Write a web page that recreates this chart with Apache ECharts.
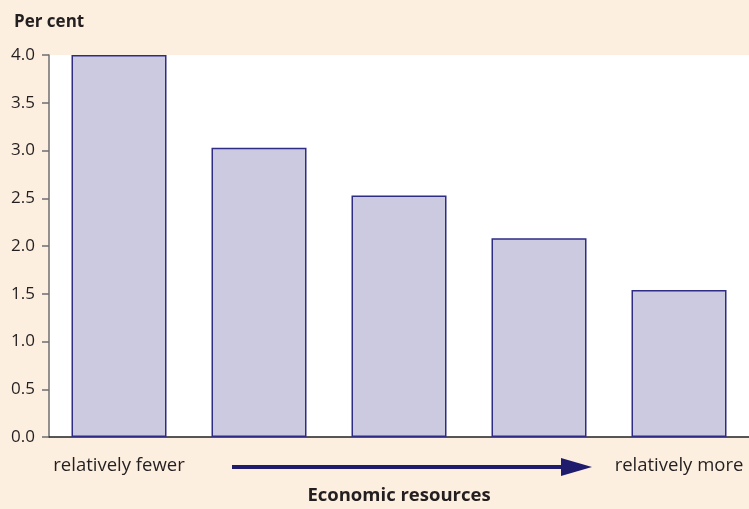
<!DOCTYPE html>
<html><head><meta charset="utf-8">
<script src="https://cdn.jsdelivr.net/npm/echarts@6/dist/echarts.min.js"></script>
<style>html,body{margin:0;padding:0;background:#fdefdf;}#c{width:749px;height:509px;}</style>
</head><body><div id="c"></div>
<script>
const categories = ['relatively fewer', '', '', '', 'relatively more'];
const values = [4.0, 3.03, 2.53, 2.08, 1.54];
const yTicks = ['0.0','0.5','1.0','1.5','2.0','2.5','3.0','3.5','4.0'];
const FONT = 'Open Sans';
const chart = echarts.init(document.getElementById('c'), null, {renderer: 'canvas'});
chart.setOption({
  backgroundColor: '#fdefdf',
  animation: false,
  grid: {left: 49, right: 0, top: 55, bottom: 72, show: true, backgroundColor: '#ffffff', borderWidth: 0},
  title: {text: 'Per cent', left: 9, top: 9, textStyle: {fontFamily: FONT, fontWeight: 'bold', fontSize: 17, color: '#231f20'}},
  xAxis: {
    type: 'category', data: categories,
    axisLine: {lineStyle: {color: '#231f20', width: 1.5}},
    axisTick: {show: false},
    axisLabel: {interval: 0, margin: 19, fontFamily: FONT, fontSize: 18.5, color: '#231f20'}
  },
  yAxis: {
    type: 'value', min: 0, max: 4, interval: 0.5,
    axisLine: {show: true, lineStyle: {color: '#6d6e71', width: 1.5}},
    axisTick: {show: true, length: 7, lineStyle: {color: '#6d6e71', width: 1.5}},
    splitLine: {show: false},
    axisLabel: {margin: 14, fontFamily: FONT, fontSize: 17, color: '#231f20',
      formatter: v => yTicks[Math.round(v / 0.5)]}
  },
  series: [{
    type: 'bar', data: values, barWidth: 95,
    itemStyle: {color: '#cbcae0', borderColor: '#2e2c84', borderWidth: 1.5}
  }],
  graphic: [
    {type: 'line', shape: {x1: 232, y1: 467, x2: 568, y2: 467}, style: {stroke: '#1f1c6e', lineWidth: 4}},
    {type: 'polygon', shape: {points: [[561, 458], [592, 467], [561, 476]]}, style: {fill: '#1f1c6e'}},
    {type: 'text', x: 399, y: 496, style: {text: 'Economic resources', font: 'bold 18.5px ' + FONT, fill: '#231f20', align: 'center', verticalAlign: 'middle'}}
  ]
});
</script></body></html>
